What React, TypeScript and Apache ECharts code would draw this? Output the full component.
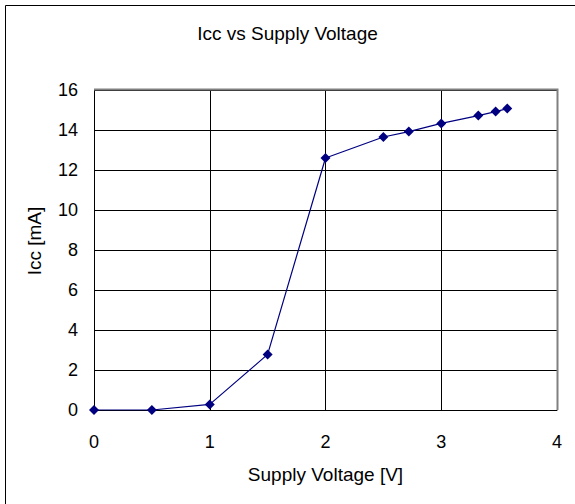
import React, { useEffect, useRef } from "react";
import * as echarts from "echarts";

const titleText = "Icc vs Supply Voltage";
const xAxisName = "Supply Voltage [V]";
const yAxisName = "Icc [mA]";
const voltage = [0, 0.5, 1, 1.5, 2, 2.5, 2.72, 3, 3.32, 3.47, 3.57];
const icc = [0, 0, 0.28, 2.78, 12.6, 13.65, 13.92, 14.33, 14.72, 14.92, 15.07];

const FONT = "Liberation Sans, Arial, sans-serif";

export default function App() {
  const ref = useRef<HTMLDivElement>(null);
  useEffect(() => {
    if (!ref.current) return;
    const chart = echarts.init(ref.current, null, { renderer: "svg" });
    const data = voltage.map((v, i) => [v, icc[i]]);
    chart.setOption({
      animation: false,
      backgroundColor: "#ffffff",
      title: {
        text: titleText,
        left: "center",
        top: 19,
        textStyle: { fontFamily: FONT, fontSize: 19, fontWeight: "normal", color: "#000" },
      },
      grid: { left: 94, right: 18, top: 90, bottom: 94, show: false },
      xAxis: {
        type: "value",
        min: 0,
        max: 4,
        interval: 1,
        name: xAxisName,
        nameLocation: "middle",
        nameGap: 55,
        nameTextStyle: { fontFamily: FONT, fontSize: 19, color: "#000" },
        axisLine: { show: true, lineStyle: { color: "#000", width: 1 } },
        axisTick: { show: false },
        axisLabel: { fontFamily: FONT, fontSize: 18, color: "#000", margin: 23 },
        splitLine: { show: true, lineStyle: { color: "#000", width: 1 } },
      },
      yAxis: {
        type: "value",
        min: 0,
        max: 16,
        interval: 2,
        name: yAxisName,
        nameLocation: "middle",
        nameGap: 50,
        nameTextStyle: { fontFamily: FONT, fontSize: 19, color: "#000", padding: [0, 0, 0, 18] },
        axisLine: { show: true, onZero: false, lineStyle: { color: "#000", width: 1 } },
        axisTick: { show: false },
        axisLabel: { fontFamily: FONT, fontSize: 18, color: "#000", margin: 16 },
        splitLine: { show: true, lineStyle: { color: "#000", width: 1 } },
      },
      graphic: [
        {
          type: "rect",
          shape: { x: 5.5, y: 5.5, width: 600, height: 600 },
          style: { fill: "none", stroke: "#000", lineWidth: 1 },
          silent: true,
          z: 0,
        },
        {
          type: "polyline",
          shape: { points: [[94, 89.5], [557.5, 89.5], [557.5, 410]] },
          style: { fill: "none", stroke: "#808080", lineWidth: 2 },
          silent: true,
          z: 1,
        },
      ],
      series: [
        {
          type: "line",
          data,
          symbol: "diamond",
          symbolSize: 10,
          lineStyle: { color: "#000080", width: 1.2 },
          itemStyle: { color: "#000080" },
          z: 5,
        },
      ],
    });
    return () => chart.dispose();
  }, []);
  return (
    <div
      ref={ref}
      style={{ position: "absolute", left: 0, top: 0, width: 575, height: 504 }}
    />
  );
}
